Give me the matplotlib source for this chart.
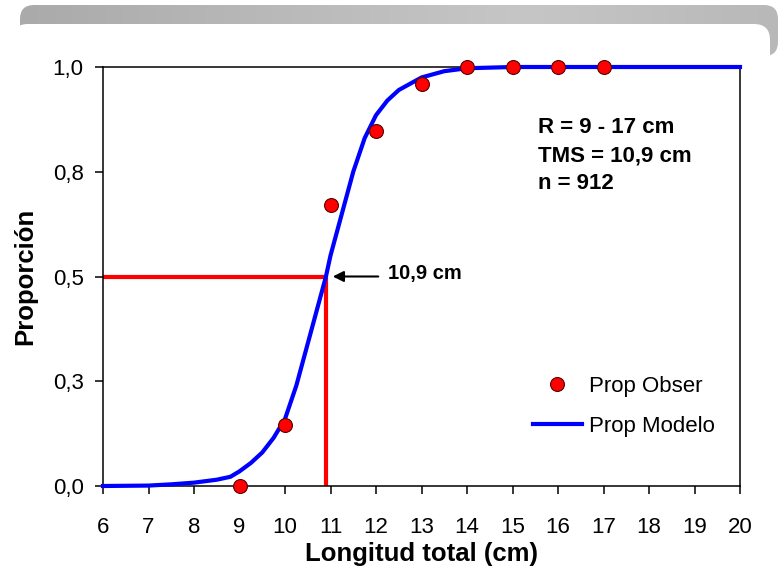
import numpy as np
import matplotlib
matplotlib.use("Agg")
import matplotlib.pyplot as plt
from matplotlib.patches import FancyBboxPatch
from matplotlib.colors import LinearSegmentedColormap

plt.rcParams['font.family'] = ['Liberation Sans', 'DejaVu Sans']

# ---- data ----
obs_x = [9, 10, 11, 12, 13, 14, 15, 16, 17]
obs_y = [0.0, 0.146, 0.67, 0.848, 0.959, 1.0, 1.0, 1.0, 1.0]

model_x = [6, 7, 7.5, 8, 8.5, 8.8, 9, 9.25, 9.5, 9.75, 10, 10.25, 10.5, 10.75,
           10.9, 11, 11.25, 11.5, 11.75, 12, 12.25, 12.5, 13, 13.5, 14, 15, 20]
model_y = [0.0, 0.001, 0.004, 0.008, 0.015, 0.022, 0.035, 0.055, 0.08, 0.115,
           0.16, 0.24, 0.34, 0.44, 0.5, 0.55, 0.65, 0.75, 0.83, 0.885, 0.92,
           0.945, 0.975, 0.99, 0.997, 1.0, 1.0]

tms = 10.9
yticks = [0.0, 0.25, 0.5, 0.75, 1.0]
ytick_labels = ['0,0', '0,3', '0,5', '0,8', '1,0']
xticks = list(range(6, 21))
info_lines = ['R = 9 - 17 cm', 'TMS = 10,9 cm', 'n = 912']
annot_text = '10,9 cm'

# ---- figure ----
fig = plt.figure(figsize=(7.8, 5.76), dpi=100)
fig.patch.set_facecolor('white')

bg = fig.add_axes([0, 0, 1, 1], zorder=-10)
bg.set_xlim(0, 780)
bg.set_ylim(0, 576)
bg.axis('off')
gray = FancyBboxPatch((20, 520), 758, 51, boxstyle='round,pad=0,rounding_size=14',
                      facecolor='none', edgecolor='none')
bg.add_patch(gray)
cmap = LinearSegmentedColormap.from_list('g', ['#aaaaaa', '#b9b9b9', '#c6c6c6', '#b8b8b8'])
grad = np.linspace(0, 1, 256).reshape(1, -1)
im = bg.imshow(grad, extent=[20, 778, 520, 571], cmap=cmap, aspect='auto', zorder=1)
im.set_clip_path(gray)
white = FancyBboxPatch((12, -30), 758, 582, boxstyle='round,pad=0,rounding_size=16',
                       facecolor='white', edgecolor='none', zorder=2)
bg.add_patch(white)

ax = fig.add_axes([103/780, 90/576, 637/780, 419/576])
ax.set_facecolor('white')
ax.set_xlim(6, 20)
ax.set_ylim(0, 1)

# reference lines
ax.plot([6, tms], [0.5, 0.5], color='#ff0000', lw=3, zorder=2, solid_capstyle='butt')
ax.plot([tms, tms], [0, 0.5], color='#ff0000', lw=3, zorder=2, solid_capstyle='butt')

# model curve
ax.plot(model_x, model_y, color='#0000ff', lw=3, zorder=4, clip_on=False,
        label='Prop Modelo', solid_joinstyle='round')
# observed points
ax.plot(obs_x, obs_y, linestyle='none', marker='o', markersize=10,
        markerfacecolor='#ff0000', markeredgecolor='#5a0000', markeredgewidth=0.8,
        zorder=5, clip_on=False, label='Prop Obser')

# annotation
ax.annotate('', xy=(11.05, 0.5), xytext=(12.05, 0.5),
            arrowprops=dict(arrowstyle='-|>', color='black', lw=1.5,
                            mutation_scale=16, shrinkA=0, shrinkB=0))
ax.text(12.26, 0.508, annot_text, fontsize=14.5, fontweight='bold',
        ha='left', va='center')

for i, line in enumerate(info_lines):
    ax.text(15.56, 0.855 - i * 0.067, line, fontsize=16, fontweight='bold',
            ha='left', va='center')

# axes styling
ax.set_xticks(xticks)
ax.set_xticklabels([str(v) for v in xticks])
ax.set_yticks(yticks)
ax.set_yticklabels(ytick_labels)
for s in ax.spines.values():
    s.set_linewidth(1.1)
    s.set_color('black')
ax.tick_params(axis='x', direction='out', length=6, width=1.1, pad=16, labelsize=16)
ax.tick_params(axis='y', direction='out', length=6, width=1.1, pad=8, labelsize=16)

ax.set_xlabel('Longitud total (cm)', fontsize=18.5, fontweight='bold', labelpad=3)
ax.set_ylabel('Proporción', fontsize=18.5, fontweight='bold', labelpad=11)

h, l = ax.get_legend_handles_labels()
leg = ax.legend([h[1], h[0]], [l[1], l[0]], loc='upper left',
                bbox_to_anchor=(0.675, 0.262), frameon=False, fontsize=16,
                handlelength=2.2, handletextpad=0.3, labelspacing=0.85,
                borderpad=0, borderaxespad=0)

fig.savefig('out.png', dpi=100)
